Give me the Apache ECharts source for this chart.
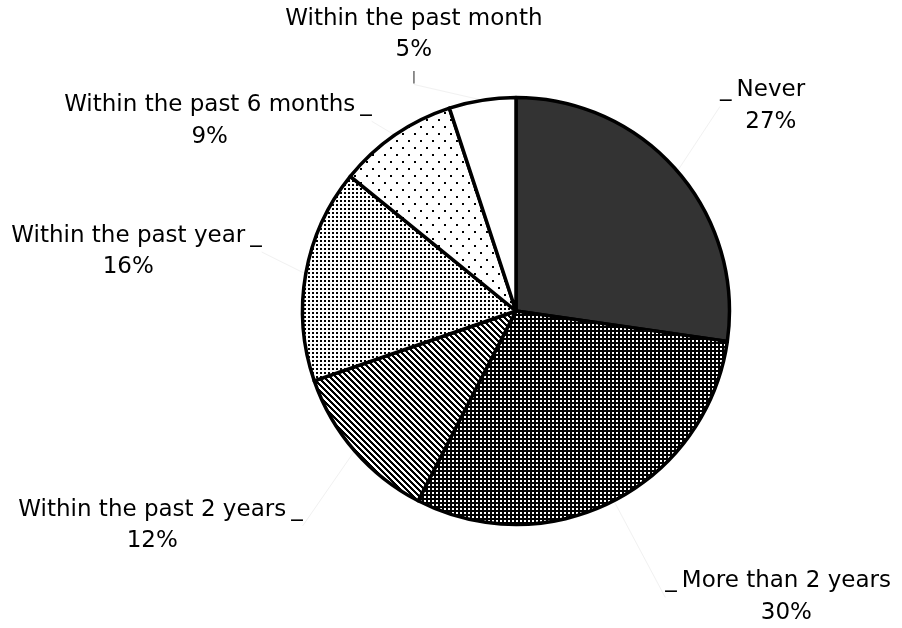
<!DOCTYPE html>
<html>
<head>
<meta charset="utf-8">
<script src="https://cdn.jsdelivr.net/npm/echarts@6/dist/echarts.min.js"></script>
<style>
  html, body { margin: 0; padding: 0; background: #ffffff; }
  #chart { width: 902px; height: 628px; }
</style>
</head>
<body>
<div id="chart"></div>
<script>
// Last time the respondent did it (share of answers, %)
const categories = [
  'Never',
  'More than 2 years',
  'Within the past 2 years',
  'Within the past year',
  'Within the past 6 months',
  'Within the past month'
];
const shares = [27, 30, 12, 16, 9, 5];

// Leader line lengths [radial, horizontal] for each slice label
const leaderLengths = [
  [99.6, -37.6],
  [108.2, -3.1],
  [113.9, -39.1],
  [129.0, -88.0],
  [17.4, 8.3],
  [54.4, -73.8]
];

// Small bitmap tiles used as slice fills
function makeTile(w, h, background, ink, isInk) {
  const c = document.createElement('canvas');
  c.width = w; c.height = h;
  const ctx = c.getContext('2d');
  ctx.fillStyle = background;
  ctx.fillRect(0, 0, w, h);
  ctx.fillStyle = ink;
  for (let y = 0; y < h; y++) {
    for (let x = 0; x < w; x++) {
      if (isInk(x, y)) ctx.fillRect(x, y, 1, 1);
    }
  }
  return { image: c, repeat: 'repeat' };
}

const fills = [
  '#333333',
  makeTile(4, 4, '#000000', '#ffffff', (x, y) => x < 2 && y < 2),
  makeTile(6, 6, '#ffffff', '#000000', (x, y) => (((x - y) % 6) + 6) % 6 < 3),
  makeTile(4, 4, '#ffffff', '#000000', (x, y) => x < 2 && y < 2),
  makeTile(12, 14, '#ffffff', '#000000',
    (x, y) => (x < 2 && y < 2) || (x >= 6 && x < 8 && y >= 7 && y < 9)),
  '#ffffff'
];

const FONT = 'DejaVu Sans';
const LINE_H = 31.5;
const textStyle = {
  fontFamily: FONT, fontSize: 23, lineHeight: LINE_H, color: '#000000', align: 'center'
};

const lastIndex = categories.length - 1;

function formatLabel(p) {
  const i = p.dataIndex;
  const pct = p.value + '%';
  if (i === lastIndex) {
    return '{n|' + p.name + '}\n{v|' + pct + '}\n{k||}';
  }
  if (i <= 1) {
    // labels on the right: tick on the left side
    return '{tl|_}{n|' + p.name + '}\n{s| }{v|' + pct + '}';
  }
  return '{n|' + p.name + '}{tr|_}\n{v|' + pct + '}{s| }';
}

const chart = echarts.init(document.getElementById('chart'), null, { renderer: 'canvas' });

chart.setOption({
  backgroundColor: '#ffffff',
  animation: false,
  series: [{
    type: 'pie',
    center: [516, 311],
    radius: 213.5,
    startAngle: 90,
    clockwise: true,
    avoidLabelOverlap: false,
    silent: true,
    itemStyle: { borderColor: '#000000', borderWidth: 3.5 },
    label: {
      show: true,
      position: 'outside',
      distanceToLabelLine: 5,
      formatter: formatLabel,
      rich: {
        n: textStyle,
        v: textStyle,
        tl: Object.assign({}, textStyle, { padding: [0, 5, 0, 0] }),
        tr: Object.assign({}, textStyle, { padding: [0, 0, 0, 5] }),
        s: Object.assign({}, textStyle, { width: 16.5 }),
        k: { fontFamily: FONT, fontSize: 13, lineHeight: 23.5, color: '#333333', align: 'center' }
      }
    },
    labelLine: {
      show: true,
      lineStyle: { color: '#f1f1f1', width: 1 }
    },
    // faint straight leader from the slice edge to the label's tick
    labelLayout: function (params) {
      const pts = params.labelLinePoints;
      const r = params.labelRect;
      if (!pts || !r) return {};
      let end;
      if (params.dataIndex === lastIndex) {
        end = [r.x + r.width / 2, r.y + r.height];
      } else if (params.dataIndex <= 1) {
        end = [r.x, r.y + LINE_H / 2 + 12];
      } else {
        end = [r.x + r.width, r.y + LINE_H / 2 + 12];
      }
      return { labelLinePoints: [pts[0], end, end] };
    },
    data: categories.map((name, i) => ({
      name: name,
      value: shares[i],
      itemStyle: { color: fills[i] },
      labelLine: { length: leaderLengths[i][0], length2: leaderLengths[i][1] }
    }))
  }]
});
</script>
</body>
</html>
